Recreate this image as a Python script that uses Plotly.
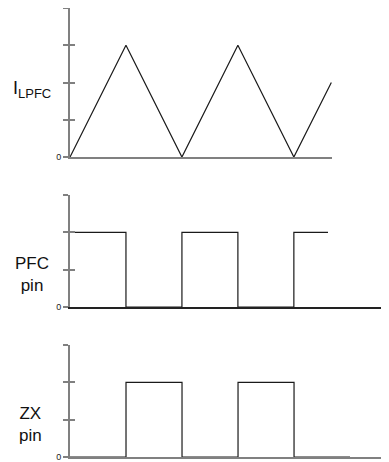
import plotly.graph_objects as go

# timing diagram data (x in switching periods)
ilpfc_t = [0, 1, 2, 3, 4, 4.67]
ilpfc_v = [0, 3, 0, 3, 0, 2]

pfc_t = [0, 1, 2, 3, 4, 4.61]
pfc_v = [2, 0, 2, 0, 2, 2]

zx_t = [0, 1, 2, 3, 4, 5]
zx_v = [0, 2, 0, 2, 0, 0]

y_ticks_top = [0, 1, 2, 3, 4]
y_ticks_low = [0, 1, 2, 3]

trace_col = "#1a1a1a"
axis_col = "#808080"

fig = go.Figure()
fig.add_trace(go.Scatter(x=ilpfc_t, y=ilpfc_v, mode="lines", xaxis="x", yaxis="y",
                         line=dict(color=trace_col, width=1.2)))
fig.add_trace(go.Scatter(x=pfc_t, y=pfc_v, mode="lines", xaxis="x2", yaxis="y2",
                         line=dict(color=trace_col, width=1.2, shape="hv")))
fig.add_trace(go.Scatter(x=zx_t, y=zx_v, mode="lines", xaxis="x3", yaxis="y3",
                         line=dict(color=trace_col, width=1.2, shape="hv")))
# empty traces so the overlay axes (inner half of the crossing ticks) get drawn
for xa, ya in [("x", "y4"), ("x2", "y5"), ("x3", "y6")]:
    fig.add_trace(go.Scatter(x=[None], y=[None], mode="lines", xaxis=xa, yaxis=ya,
                             hoverinfo="skip"))


def yax(ticks, rng, domain=None, overlay=None, side_ticks="outside", labels=True, anchor="x"):
    d = dict(range=rng, tickvals=ticks,
             ticktext=["0"] + [""] * (len(ticks) - 1),
             showticklabels=labels, ticks=side_ticks, ticklen=5, tickwidth=1.5,
             tickcolor=axis_col, showline=True, linecolor=axis_col, linewidth=2,
             showgrid=False, zeroline=False, anchor=anchor,
             ticklabeloverflow="allow",
             tickfont=dict(size=9, color="#222", family="Liberation Sans, Arial"),
             fixedrange=True)
    if domain is not None:
        d["domain"] = domain
    if overlay is not None:
        d["overlaying"] = overlay
    return d


def xax(domain, rng, anchor, col=axis_col):
    return dict(domain=domain, range=rng, anchor=anchor, showline=True, linecolor=col,
                linewidth=1.5, ticks="", showticklabels=False, showgrid=False,
                zeroline=False, fixedrange=True)


# page body keeps its 8px default margin, so the figure is 8px smaller
fig.update_layout(
    width=381, height=454,
    margin=dict(l=62, r=0, t=0, b=5),
    paper_bgcolor="white", plot_bgcolor="white",
    showlegend=False,
    xaxis=xax([0, 0.821], [0, 4.68], "y"),
    xaxis2=xax([0, 1], [0, 5.70], "y2", col="#222"),
    xaxis3=xax([0, 0.978], [0, 5.57], "y3"),
    yaxis=yax(y_ticks_top, [0, 4], domain=[0.668, 1], anchor="x"),
    yaxis2=yax(y_ticks_low, [0, 3], domain=[0.334, 0.5835], anchor="x2"),
    yaxis3=yax(y_ticks_low, [0, 3], domain=[0, 0.2494], anchor="x3"),
    yaxis4=yax(y_ticks_top, [0, 4], overlay="y", side_ticks="inside", labels=False, anchor="x"),
    yaxis5=yax(y_ticks_low, [0, 3], overlay="y2", side_ticks="inside", labels=False, anchor="x2"),
    yaxis6=yax(y_ticks_low, [0, 3], overlay="y3", side_ticks="inside", labels=False, anchor="x3"),
    font=dict(family="Liberation Sans, Arial", color="#111"),
)

lab_font = dict(size=17, family="Liberation Sans, Arial", color="#111")
fig.add_annotation(text="I<sub><span style='font-size:13px'>LPFC</span></sub>",
                   xref="paper", yref="y", x=-0.12, y=1.8,
                   showarrow=False, font=dict(size=18, family="Liberation Sans, Arial", color="#111"),
                   xanchor="center", yanchor="middle")
fig.add_annotation(text="PFC<br>pin", xref="paper", yref="y2", x=-0.12, y=0.86,
                   showarrow=False, font=lab_font, xanchor="center", yanchor="middle")
fig.add_annotation(text="ZX<br>pin", xref="paper", yref="y3", x=-0.125, y=0.86,
                   showarrow=False, font=lab_font, xanchor="center", yanchor="middle")

fig.write_html("out.html")
